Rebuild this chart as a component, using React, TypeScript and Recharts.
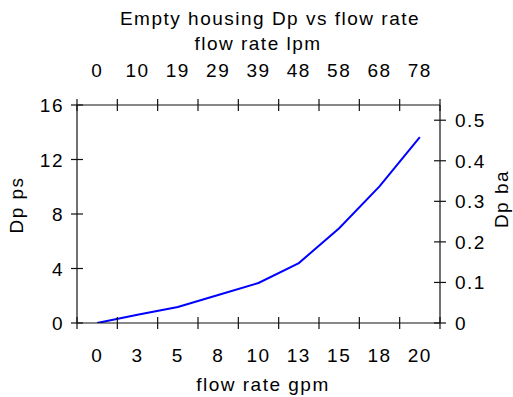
import { LineChart, Line, XAxis, YAxis, Customized } from 'recharts';

// flow rate (gpm) and pressure drop (psi)
const gpm = [0, 2.5, 5, 7.5, 10, 12.5, 15, 17.5, 20];
const dpPsi = [0, 0.6, 1.17, 2.06, 2.94, 4.4, 6.95, 10.03, 13.65];

const gpmLabels = ['0', '3', '5', '8', '10', '13', '15', '18', '20'];
const lpmLabels = ['0', '10', '19', '29', '39', '48', '58', '68', '78'];
const psiTicks = [0, 4, 8, 12, 16];
const barTicks = [0, 0.1, 0.2, 0.3, 0.4, 0.5];
const barMax = 0.5375;

const data = gpm.map((g, i) => ({ gpm: g, psi: dpPsi[i] }));

const half = (gpm[1] - gpm[0]) / 2;
const xDomain = [gpm[0] - half, gpm[gpm.length - 1] + half];
const edges = [...gpm.map(g => g - half), gpm[gpm.length - 1] + half];
const xTicks = [...edges, ...gpm].sort((a, b) => a - b);

const FONT = '"Liberation Sans", Arial, sans-serif';
const txt = { fontFamily: FONT, fontSize: 19, letterSpacing: 1.5, fill: '#000' };
const INK = '#111';

function XTick(props: any) {
  const { x, y, payload, side } = props;
  const i = gpm.indexOf(payload.value);
  if (i < 0) {
    return <line x1={x} x2={x} y1={y - 6} y2={y + 6} stroke={INK} strokeWidth={1.2} />;
  }
  const label = side === 'top' ? lpmLabels[i] : gpmLabels[i];
  return (
    <text x={x} y={side === 'top' ? y - 28 : y + 39} textAnchor="middle" style={txt}>
      {label}
    </text>
  );
}

function YTick(props: any) {
  const { x, y, payload, side } = props;
  const left = side === 'left';
  const label = left ? String(payload.value) : String(Math.round(payload.value * 10) / 10);
  return (
    <g>
      <line x1={x - 6} x2={x + 6} y1={y} y2={y} stroke={INK} strokeWidth={1.2} />
      <text
        x={left ? x - 13 : x + 15}
        y={y + 7}
        textAnchor={left ? 'end' : 'start'}
        style={txt}
      >
        {label}
      </text>
    </g>
  );
}

function Titles() {
  return (
    <g style={txt}>
      <text x={270} y={25} textAnchor="middle" style={txt}>Empty housing Dp vs flow rate</text>
      <text x={258} y={50} textAnchor="middle" style={txt}>flow rate lpm</text>
      <text x={263} y={391} textAnchor="middle" style={txt}>flow rate gpm</text>
      <text x={23} y={205} textAnchor="middle" transform="rotate(-90 23 205)" style={txt}>Dp ps</text>
      <text x={508} y={199} textAnchor="middle" transform="rotate(-90 508 199)" style={txt}>Dp ba</text>
    </g>
  );
}

export default function App() {
  return (
    <div style={{ position: 'absolute', left: 0, top: 0, background: '#fff' }}>
      <LineChart
        width={513}
        height={397}
        data={data}
        margin={{ top: 0, right: 0, bottom: 0, left: 0 }}
      >
        <XAxis
          xAxisId="bottom"
          type="number"
          dataKey="gpm"
          domain={xDomain}
          allowDataOverflow
          ticks={xTicks}
          interval={0}
          height={74}
          tickSize={0}
          tickMargin={0}
          tickLine={false}
          axisLine={{ stroke: INK, strokeWidth: 1.2 }}
          tick={(p: any) => <XTick {...p} side="bottom" />}
        />
        <XAxis
          xAxisId="top"
          orientation="top"
          type="number"
          dataKey="gpm"
          domain={xDomain}
          allowDataOverflow
          ticks={xTicks}
          interval={0}
          height={105}
          tickSize={0}
          tickMargin={0}
          tickLine={false}
          axisLine={{ stroke: INK, strokeWidth: 1.2 }}
          tick={(p: any) => <XTick {...p} side="top" />}
        />
        <YAxis
          yAxisId="psi"
          orientation="left"
          type="number"
          domain={[0, 16]}
          allowDataOverflow
          ticks={psiTicks}
          interval={0}
          width={77}
          tickSize={0}
          tickMargin={0}
          tickLine={false}
          axisLine={{ stroke: INK, strokeWidth: 1.2 }}
          tick={(p: any) => <YTick {...p} side="left" />}
        />
        <YAxis
          yAxisId="bar"
          orientation="right"
          type="number"
          domain={[0, barMax]}
          allowDataOverflow
          ticks={barTicks}
          interval={0}
          width={73}
          tickSize={0}
          tickMargin={0}
          tickLine={false}
          axisLine={{ stroke: INK, strokeWidth: 1.2 }}
          tick={(p: any) => <YTick {...p} side="right" />}
        />
        <Line
          xAxisId="bottom"
          yAxisId="psi"
          type="linear"
          dataKey="psi"
          stroke="#0000ff"
          strokeWidth={2}
          dot={false}
          isAnimationActive={false}
        />
        <Customized component={Titles} />
      </LineChart>
    </div>
  );
}
